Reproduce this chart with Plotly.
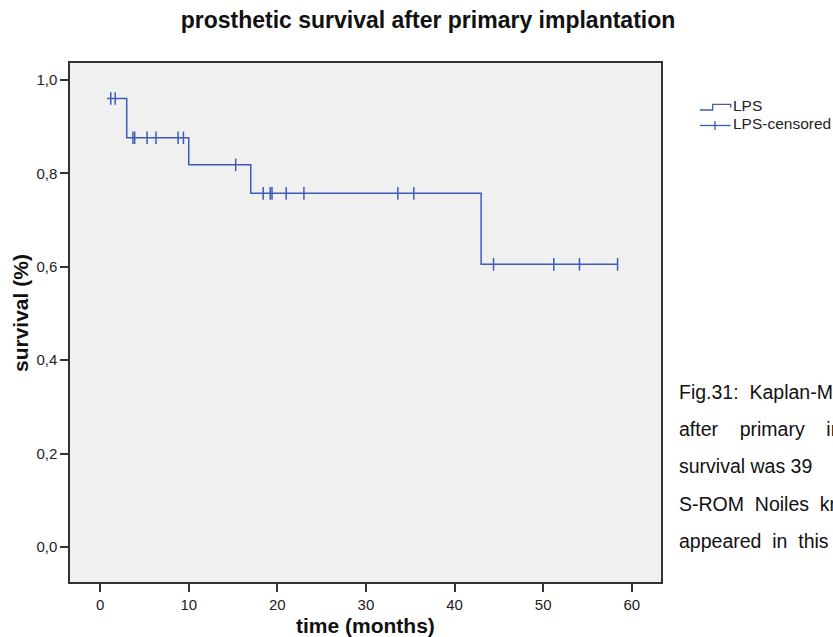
import plotly.graph_objects as go

# Kaplan-Meier estimate (step levels) for LPS prostheses
step_time = [0.8, 3.0, 10.0, 17.0, 43.0, 58.4]
step_surv = [0.96, 0.876, 0.818, 0.757, 0.605, 0.605]

# censored observations (months)
cens_time = [1.2, 1.7, 3.7, 3.9, 5.3, 6.3, 8.8, 9.4, 15.3, 18.4, 19.2, 19.4,
             21.0, 23.0, 33.6, 35.4, 44.4, 51.2, 54.1, 58.4]

x_ticks = [0, 10, 20, 30, 40, 50, 60]
y_ticks = [0.0, 0.2, 0.4, 0.6, 0.8, 1.0]

NB = "\u00a0"
caption_lines = [
    "Fig.31:" + NB * 2 + "Kaplan-M",
    "after" + NB * 4 + "primary" + NB * 4 + "im",
    "survival was 39",
    "S-ROM" + NB * 2 + "Noiles" + NB * 2 + "kn",
    "appeared" + NB * 2 + "in" + NB * 2 + "this",
]


def surv_at(t):
    """Value of the step function at time t."""
    s = step_surv[0]
    for st, sv in zip(step_time, step_surv):
        if t >= st:
            s = sv
    return s


cens_surv = [surv_at(t) for t in cens_time]

W, H = 833, 637
ML, MR, MT, MB = 70, 172, 63, 55
PW, PH = W - ML - MR, H - MT - MB


def px(x):
    return (x - ML) / PW


def py(y):
    return (H - MB - y) / PH


BLUE = "#3d5cb8"
FONT = "Liberation Sans, Arial, sans-serif"

fig = go.Figure()
fig.add_trace(go.Scatter(
    x=step_time, y=step_surv, mode="lines", line_shape="hv",
    line=dict(color=BLUE, width=1.5), showlegend=False, hoverinfo="skip",
))
fig.add_trace(go.Scatter(
    x=cens_time, y=cens_surv, mode="markers",
    marker=dict(symbol="line-ns", size=9, line=dict(color=BLUE, width=1.5)),
    showlegend=False,
))

shapes = []
# legend icons
shapes.append(dict(
    type="path", xref="paper", yref="paper",
    path=(f"M {px(700)},{py(110)} L {px(712.7)},{py(110)} L {px(712.7)},{py(104.3)} "
          f"L {px(730.7)},{py(104.3)} L {px(730.7)},{py(107.7)}"),
    line=dict(color=BLUE, width=1.3),
))
shapes.append(dict(type="line", xref="paper", yref="paper",
                   x0=px(700), x1=px(730.7), y0=py(125.5), y1=py(125.5),
                   line=dict(color=BLUE, width=1.3)))
shapes.append(dict(type="line", xref="paper", yref="paper",
                   x0=px(715), x1=px(715), y0=py(121), y1=py(130),
                   line=dict(color=BLUE, width=1.3)))

annotations = [
    dict(text="LPS", x=px(731), y=py(106), xref="paper", yref="paper",
         xanchor="left", yanchor="middle", showarrow=False,
         font=dict(family=FONT, size=15.5, color="#222")),
    dict(text="LPS-censored", x=px(731), y=py(124), xref="paper", yref="paper",
         xanchor="left", yanchor="middle", showarrow=False,
         font=dict(family=FONT, size=15.5, color="#222")),
    dict(text="time (months)", x=0.5, y=py(625), xref="paper", yref="paper",
         xanchor="center", yanchor="middle", showarrow=False,
         font=dict(family=FONT, size=21, color="#111", weight="bold")),
    dict(text="survival (%)", x=px(20), y=py(313), xref="paper", yref="paper",
         xanchor="center", yanchor="middle", showarrow=False, textangle=-90,
         font=dict(family=FONT, size=21, color="#111", weight="bold")),
]
for i, line in enumerate(caption_lines):
    annotations.append(dict(
        text=line, x=px(677), y=py(392 + 37.2 * i), xref="paper", yref="paper",
        xanchor="left", yanchor="middle", showarrow=False,
        font=dict(family=FONT, size=19.5, color="#111"),
    ))

axis_common = dict(
    showgrid=False, zeroline=False, showline=True, mirror=True,
    linecolor="#333", linewidth=1.5, ticks="outside", ticklen=8,
    tickcolor="#333", tickwidth=1.5,
    tickfont=dict(family=FONT, size=15, color="#222"),
)

fig.update_layout(
    width=W, height=H,
    margin=dict(l=ML, r=MR, t=MT, b=MB),
    paper_bgcolor="white", plot_bgcolor="#f0f0f0",
    separators=",.",
    title=dict(text="prosthetic survival after primary implantation",
               x=428 / W, xanchor="center", y=1 - 20 / H, yanchor="middle",
               font=dict(family=FONT, size=23, color="#111", weight="bold")),
    xaxis=dict(range=[-3.4, 63.3], tickvals=x_ticks, **axis_common),
    yaxis=dict(range=[-0.075, 1.036], tickvals=y_ticks, tickformat=".1f",
               **axis_common),
    shapes=shapes, annotations=annotations,
)

fig.write_html("out.html")
